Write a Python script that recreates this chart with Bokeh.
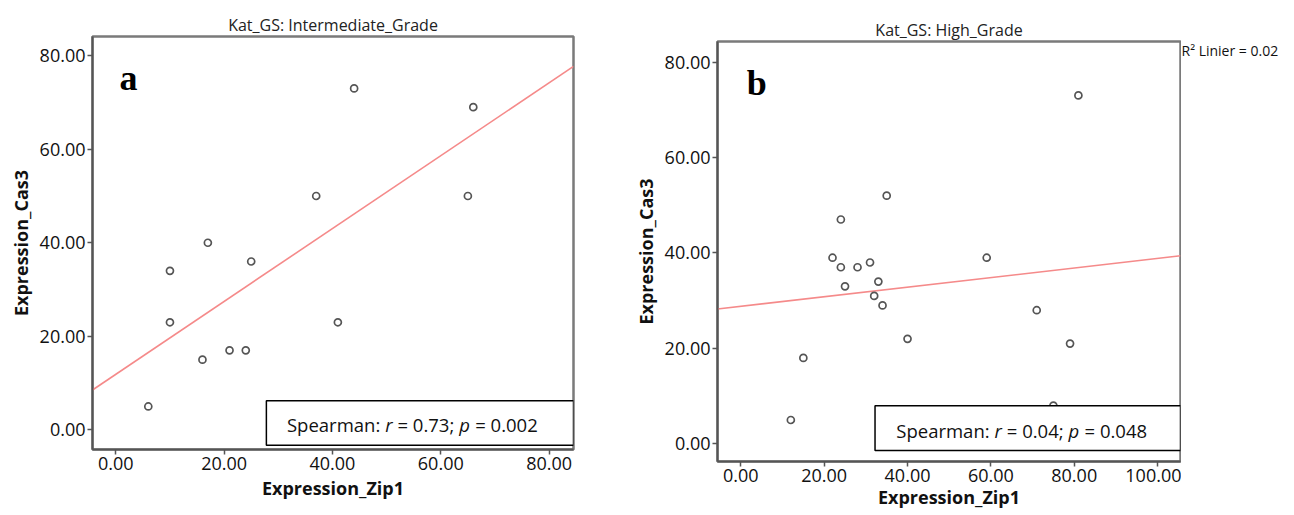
from bokeh.plotting import figure
from bokeh.models import Range1d, FixedTicker, PrintfTickFormatter, BoxAnnotation, Label
from bokeh.layouts import row
from bokeh.embed import file_html
from bokeh.resources import INLINE
from bokeh.core.properties import value
import numpy as np

# ---------------- data ----------------
titles = ["Kat_GS: Intermediate_Grade", "Kat_GS: High_Grade"]
panel_letters = ["a", "b"]
x_label = "Expression_Zip1"
y_label = "Expression_Cas3"

# Panel a (Intermediate grade)
zip1_a = [6, 10, 10, 16, 17, 21, 24, 25, 37, 41, 44, 65, 66]
cas3_a = [5, 34, 23, 15, 40, 17, 17, 36, 50, 23, 73, 50, 69]
x_ticks_a = [0, 20, 40, 60, 80]
y_ticks_a = [0, 20, 40, 60, 80]
stats_a = ("0.73", "0.002")

# Panel b (High grade)
zip1_b = [12, 15, 22, 24, 25, 28, 31, 33, 32, 34, 40, 35, 24, 59, 71, 79, 75, 81]
cas3_b = [5, 18, 39, 37, 33, 37, 38, 34, 31, 29, 22, 52, 47, 39, 28, 21, 8, 73]
x_ticks_b = [0, 20, 40, 60, 80, 100]
y_ticks_b = [0, 20, 40, 60, 80]
stats_b = ("0.04", "0.048")
r2_text_b = "R\u00b2 Linier = 0.02"

FONT = "Open Sans"
PT_COLOR = "#555555"
LINE_COLOR = "#f58a8a"
AX_COLOR = "#555555"

# approximate Open Sans advance widths (em)
W = {' ': 0.26, 'S': 0.547, 'p': 0.613, 'e': 0.561, 'a': 0.556, 'r': 0.408, 'm': 0.930,
     'n': 0.614, ':': 0.266, '=': 0.572, '.': 0.266, ';': 0.266}
for d in "0123456789":
    W[d] = 0.572
W_IT = {'r': 0.40, 'p': 0.604}


def tw(s):
    return sum(W.get(c, 0.56) for c in s)


def make_panel(title, letter, xs, ys, xticks, yticks, xr, yr, frame, borders,
               box, text_pos, letter_pos, stats, xlab_standoff):
    fw, fh = frame
    bl, br, bt, bb = borders
    p = figure(frame_width=fw, frame_height=fh, x_range=Range1d(*xr), y_range=Range1d(*yr),
               toolbar_location=None, output_backend="svg",
               min_border_left=bl, min_border_right=br, min_border_top=bt, min_border_bottom=bb)
    p.frame_align = False
    p.title.text = title
    p.title.align = "center"
    p.title.vertical_align = "middle"
    p.title.text_font = FONT
    p.title.text_font_style = "normal"
    p.title.text_font_size = "16px"
    p.title.text_color = "#222222"
    p.title.standoff = 0
    p.xgrid.visible = False
    p.ygrid.visible = False
    p.outline_line_color = "#7a7a7a"
    p.outline_line_width = 2.5
    p.background_fill_color = "white"
    p.border_fill_color = "white"

    for ax, ticks in ((p.xaxis[0], xticks), (p.yaxis[0], yticks)):
        ax.ticker = FixedTicker(ticks=ticks)
        ax.formatter = PrintfTickFormatter(format="%.2f")
        ax.major_label_text_font = FONT
        ax.major_label_text_font_size = "18px"
        ax.major_label_text_color = "#111111"
        ax.major_tick_in = 0
        ax.major_tick_out = 5
        ax.minor_tick_line_color = None
        ax.major_tick_line_color = AX_COLOR
        ax.major_tick_line_width = 1.5
        ax.axis_line_color = AX_COLOR
        ax.axis_line_width = 2
        ax.major_label_standoff = 2
        ax.axis_label_text_font = FONT
        ax.axis_label_text_font_style = "bold"
        ax.axis_label_text_font_size = "18px"
        ax.axis_label_text_color = "#111111"
        ax.axis_label_standoff = 4
    p.xaxis.axis_label_standoff = xlab_standoff
    p.xaxis.axis_label = x_label
    p.yaxis.axis_label = y_label

    # regression line (least squares fit of the data)
    k, b0 = np.polyfit(np.array(xs, float), np.array(ys, float), 1)
    p.line([xr[0], xr[1]], [k * xr[0] + b0, k * xr[1] + b0], line_color=LINE_COLOR, line_width=1.6)

    p.scatter(xs, ys, marker="circle", size=7, fill_color=None, line_color=PT_COLOR, line_width=1.7)

    p.add_layout(Label(x=letter_pos[0], y=letter_pos[1], text=letter, text_font="Liberation Serif",
                       text_font_style="bold", text_font_size="36px", text_color="black",
                       text_baseline="alphabetic", text_align="left"))

    p.add_layout(BoxAnnotation(left=box[0], right=box[1], bottom=box[2], top=box[3],
                               fill_color="white", fill_alpha=1.0, line_color="black",
                               line_width=1.5, line_alpha=1.0))

    fs = 18.5
    segs = [("Spearman:", "normal"), ("r", "italic"), ("= " + stats[0] + ";", "normal"),
            ("p", "italic"), ("= " + stats[1], "normal")]
    off = 0.0
    for s, style in segs:
        p.add_layout(Label(x=text_pos[0], y=text_pos[1], x_offset=off, text=s, text_font=FONT,
                           text_font_style=style, text_font_size=f"{fs}px", text_color="#111111",
                           text_baseline="middle", text_align="left"))
        w = W_IT[s] if style == "italic" else tw(s)
        off += (w + W[' ']) * fs
    return p


p1 = make_panel(titles[0], panel_letters[0], zip1_a, cas3_a, x_ticks_a, y_ticks_a,
                (-4.3, 84.5), (-4.2, 84.1), (481, 413), (92, 50, 36, 66),
                (27.8, 84.5, -3.3, 6.2), (31.6, 1.1), (0.7, 75.3), stats_a, 3)

p2 = make_panel(titles[1], panel_letters[1], zip1_b, cas3_b, x_ticks_b, y_ticks_b,
                (-5.6, 105.5), (-3.7, 84.3), (463, 420), (94, 1, 41, 54),
                (32.2, 105.5, -1.4, 8.0), (37.3, 2.8), (1.4, 75.6), stats_b, 0)

# side strip holding the R² note next to panel b (pixel-like coordinates, y downward)
p3 = figure(frame_width=104, frame_height=120, x_range=Range1d(0, 104), y_range=Range1d(120, 0),
            toolbar_location=None, output_backend="svg", x_axis_type=None, y_axis_type=None,
            min_border_left=0, min_border_right=0, min_border_top=0, min_border_bottom=0)
p3.frame_align = False
p3.outline_line_color = None
p3.xgrid.visible = False
p3.ygrid.visible = False
p3.text(x=[0], y=[50], text=[r2_text_b], text_font=value(FONT), text_font_size="14px",
        text_color="#111111", text_align="left", text_baseline="middle")

layout = row(p1, p2, p3)
open("out.html", "w").write(file_html(layout, INLINE))
